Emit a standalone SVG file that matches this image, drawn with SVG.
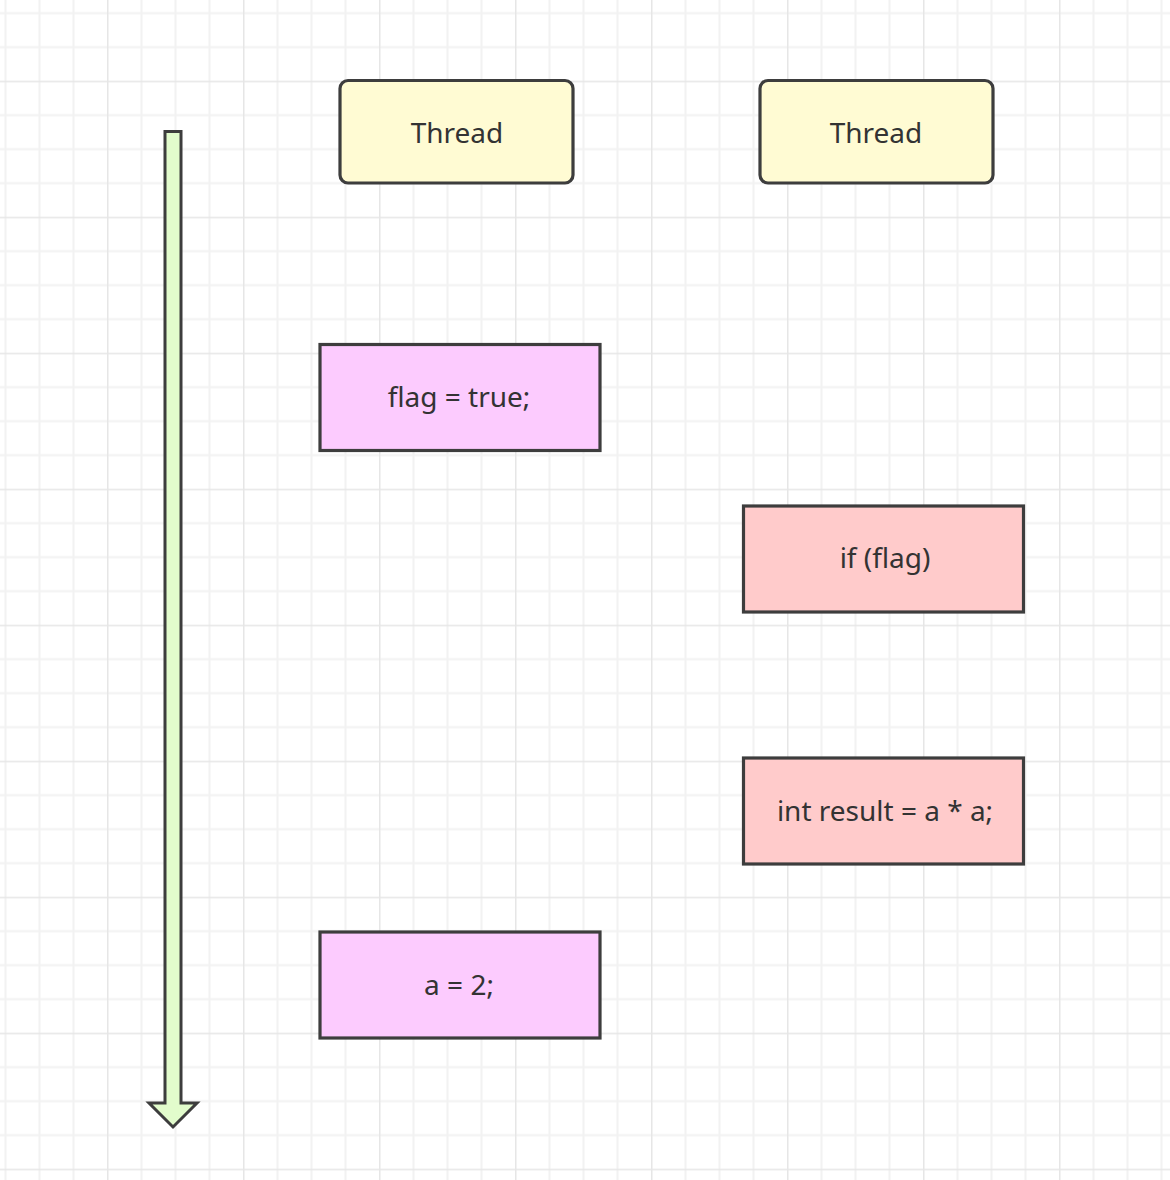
<svg xmlns="http://www.w3.org/2000/svg" width="1170" height="1180" viewBox="0 0 1170 1180">
<style>
.box{stroke:#3d3d3d;stroke-width:3.2}
.thread{fill:#fffbd3}
.pink{fill:#fccbfe}
.red{fill:#ffcbcb}
.lbl{font-family:"Noto Sans","Liberation Sans",Arial,sans-serif;font-size:28px;fill:#333333;text-anchor:middle;dominant-baseline:central}
</style>
<defs>
<pattern id="grid" patternUnits="userSpaceOnUse" x="-29" y="-55.3" width="136" height="136">
<path d="M34.5 0V136M68.5 0V136M102.5 0V136M0 34.5H136M0 68.5H136M0 102.5H136" stroke="#f2f2f2" stroke-width="2" fill="none"/>
<path d="M0.5 0V136M0 0.5H136" stroke="#e6e6e6" stroke-width="2" fill="none"/>
</pattern>
</defs>
<rect width="1170" height="1180" fill="#ffffff"/>
<rect width="1170" height="1180" fill="url(#grid)"/>
<g id="connectors">
<polygon id="timeline" points="165,131.5 181,131.5 181,1103 197,1103 173,1127 149,1103 165,1103" fill="#e2fccc" stroke="#3d3d3d" stroke-width="3" stroke-linejoin="miter"/>
</g>
<g id="thread1">
<rect class="box thread" x="340" y="80.5" width="233" height="102.5" rx="8"/>
<text class="lbl" x="457" y="132">Thread</text>
</g>
<g id="thread2">
<rect class="box thread" x="760" y="80.5" width="233" height="102.5" rx="8"/>
<text class="lbl" x="876" y="132">Thread</text>
</g>
<g id="flag-true">
<rect class="box pink" x="320" y="344.5" width="280" height="106"/>
<text class="lbl" x="459" y="396">flag = true;</text>
</g>
<g id="if-flag">
<rect class="box red" x="743.5" y="506" width="280" height="106"/>
<text class="lbl" x="885" y="557">if (flag)</text>
</g>
<g id="int-result">
<rect class="box red" x="743.5" y="758" width="280" height="106"/>
<text class="lbl" x="885" y="810">int result = a * a;</text>
</g>
<g id="a-2">
<rect class="box pink" x="320" y="932" width="280" height="106"/>
<text class="lbl" x="459" y="984">a = 2;</text>
</g>
</svg>
